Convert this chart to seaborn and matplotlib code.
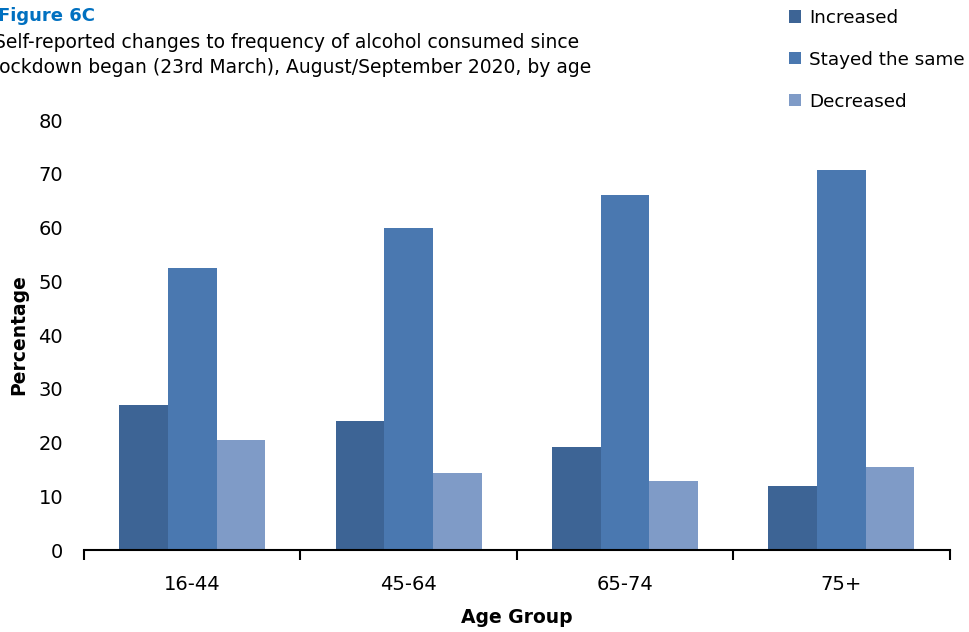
import numpy as np
import pandas as pd
import matplotlib
matplotlib.use("Agg")
import matplotlib.pyplot as plt
import seaborn as sns
from matplotlib.patches import Patch

age_groups = ["16-44", "45-64", "65-74", "75+"]
changes = ["Increased", "Stayed the same", "Decreased"]
increased = [26.9, 24.0, 19.2, 12.0]
stayed_same = [52.5, 60.0, 66.0, 70.7]
decreased = [20.4, 14.3, 12.8, 15.4]
colors = ["#3D6495", "#4A78B0", "#7F9BC7"]

df = pd.DataFrame({
    "Age Group": age_groups * 3,
    "Change": [c for c in changes for _ in age_groups],
    "Percentage": increased + stayed_same + decreased,
})

sns.set_style("white")
plt.rcParams["font.family"] = ["DejaVu Sans"]
plt.rcParams["text.color"] = "black"
plt.rcParams["axes.labelcolor"] = "black"
plt.rcParams["xtick.color"] = "black"
plt.rcParams["ytick.color"] = "black"

fig = plt.figure(figsize=(9.69, 6.32), dpi=100)
ax = fig.add_axes([0.0867, 0.1297, 0.8933, 0.6803])

sns.barplot(
    data=df, x="Age Group", y="Percentage", hue="Change",
    hue_order=changes, palette=colors, saturation=1,
    width=0.675, gap=0, linewidth=0, ax=ax, legend=False,
)

ax.set_xlim(-0.5, 3.5)
ax.set_ylim(0, 80)
ax.set_yticks(range(0, 81, 10))
ax.set_xticks(range(4))
ax.set_xticks(np.arange(-0.5, 4, 1), minor=True)
ax.tick_params(axis="x", which="major", bottom=False, length=0, labelsize=14, pad=18)
ax.tick_params(axis="x", which="minor", bottom=True, length=7, width=1.5,
               direction="out", color="black")
ax.tick_params(axis="y", length=0, labelsize=14, pad=15)
for s in ["top", "right", "left"]:
    ax.spines[s].set_visible(False)
ax.spines["bottom"].set_color("black")
ax.spines["bottom"].set_linewidth(1.5)

ax.set_xlabel("Age Group", fontsize=13.5, fontweight="bold", labelpad=10)
ax.set_ylabel("Percentage", fontsize=13.5, fontweight="bold", labelpad=7)

fig.text(-0.002, 0.975, "Figure 6C", color="#0070C0", fontsize=13,
         fontweight="bold", ha="left", va="center")
fig.text(-0.006, 0.913,
         "Self-reported changes to frequency of alcohol consumed since\n"
         "lockdown began (23rd March), August/September 2020, by age",
         fontsize=13.5, ha="left", va="center", linespacing=1.4)

handles = [Patch(facecolor=c, edgecolor="none") for c in colors]
fig.legend(handles, changes, loc="upper left", bbox_to_anchor=(0.797, 1.012),
           frameon=False, fontsize=13.2, handlelength=0.65, handleheight=0.65,
           handletextpad=0.45, labelspacing=1.3)

fig.savefig("out.png", dpi=100)
